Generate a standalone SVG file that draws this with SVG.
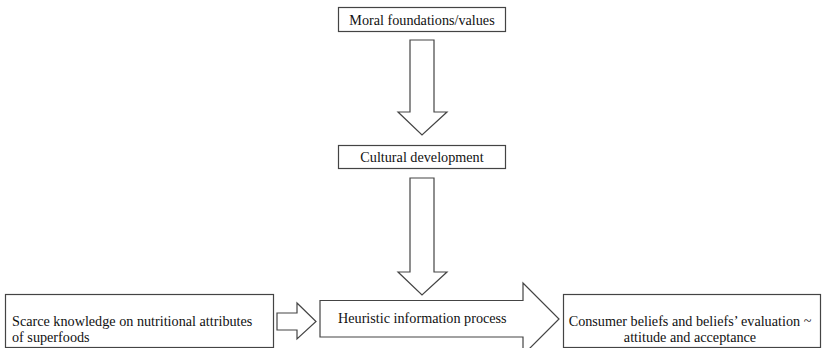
<svg xmlns="http://www.w3.org/2000/svg" width="824" height="348" viewBox="0 0 824 348">
<style>
.box{fill:#fff;stroke:#444;stroke-width:1.2}
.arr{fill:#fff;stroke:#444;stroke-width:1.2;stroke-linejoin:miter}
text{font-family:"Liberation Serif","Times New Roman",serif;font-size:14.2px;fill:#111}
.c{text-anchor:middle}
</style>
<rect width="824" height="348" fill="#fff"/>
<g id="connectors">
<polygon class="arr" points="410,40 434,40 434,112 447,112 422,135 398,112 410,112"/>
<polygon class="arr" points="410,178 434,178 434,272 447,272 422,295 398,272 410,272"/>
<polygon class="arr" points="277,313 297,313 297,303 316,321.5 297,339 297,330 277,330"/>
</g>
<g id="moral">
<rect class="box" x="338.5" y="7.5" width="167" height="24"/>
<text class="c" x="422" y="24.5">Moral foundations/values</text>
</g>
<g id="cultural">
<rect class="box" x="338.5" y="145.5" width="167" height="23"/>
<text class="c" x="422" y="162">Cultural development</text>
</g>
<g id="scarce">
<rect class="box" x="5.5" y="294.5" width="268" height="53"/>
<text x="12" y="326">Scarce knowledge on nutritional attributes</text>
<text x="12" y="342">of superfoods</text>
</g>
<g id="heuristic">
<polygon class="arr" points="320,300.5 523,300.5 523,283 559,319 523,355 523,337 320,337"/>
<text x="338" y="323">Heuristic information process</text>
</g>
<g id="consumer">
<rect class="box" x="563.5" y="294.5" width="257" height="53"/>
<text class="c" x="690" y="326">Consumer beliefs and beliefs’ evaluation ~</text>
<text class="c" x="690" y="342">attitude and acceptance</text>
</g>
</svg>
